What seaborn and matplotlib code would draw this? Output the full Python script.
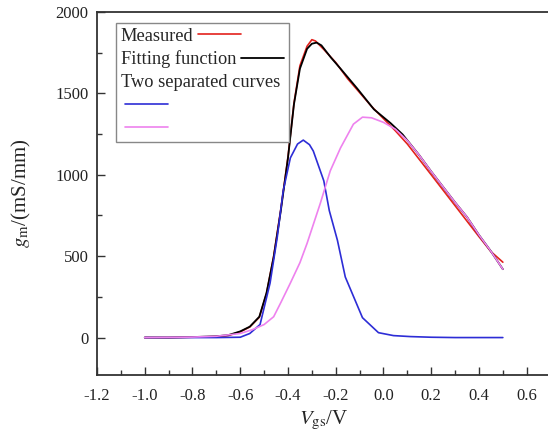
import numpy as np
import pandas as pd
import matplotlib
matplotlib.use("Agg")
import matplotlib.pyplot as plt
import seaborn as sns
from matplotlib.lines import Line2D
from matplotlib.legend_handler import HandlerBase
from matplotlib.ticker import MultipleLocator

# ---- data ----
meas_x = [-1.0, -0.9, -0.8, -0.7, -0.65, -0.6, -0.56, -0.52, -0.49, -0.46, -0.43, -0.4, -0.375,
          -0.35, -0.32, -0.3, -0.285, -0.25, -0.2, -0.15, -0.1, -0.05, 0.0, 0.05, 0.1, 0.2, 0.3,
          0.4, 0.45, 0.5]
meas_y = [0, 0, 2, 6, 12, 35, 65, 125, 270, 500, 790, 1110, 1440,
          1670, 1790, 1830, 1822, 1770, 1690, 1590, 1505, 1420, 1345, 1270, 1189, 1000, 810,
          620, 528, 463]

fit_x = [-1.0, -0.9, -0.8, -0.7, -0.65, -0.6, -0.56, -0.52, -0.49, -0.46, -0.43, -0.4, -0.375,
         -0.35, -0.32, -0.3, -0.28, -0.26, -0.22, -0.18, -0.11, -0.04, 0.03, 0.08, 0.15, 0.2,
         0.25, 0.3, 0.35, 0.4, 0.45, 0.5]
fit_y = [0, 0, 3, 8, 15, 38, 67, 128, 274, 494, 780, 1104, 1433,
         1652, 1774, 1805, 1812, 1795, 1720, 1652, 1530, 1402, 1317, 1248, 1120, 1020,
         925, 830, 740, 630, 530, 420]

blue_x = [-1.0, -0.9, -0.8, -0.7, -0.6, -0.56, -0.517, -0.475, -0.445, -0.42, -0.39, -0.36,
          -0.336, -0.31, -0.294, -0.25, -0.227, -0.193, -0.16, -0.088, -0.021, 0.042, 0.113,
          0.2, 0.3, 0.4, 0.5]
blue_y = [0, 0, 0, 0, 2, 25, 80, 335, 616, 902, 1104, 1189,
          1213, 1185, 1146, 963, 780, 598, 372, 122, 30, 12, 6,
          2, 0, 0, 0]

pink_x = [-1.0, -0.9, -0.8, -0.7, -0.6, -0.55, -0.5, -0.46, -0.43, -0.39, -0.35, -0.32, -0.265,
          -0.223, -0.18, -0.126, -0.088, -0.05, 0.0, 0.05, 0.1, 0.15, 0.2, 0.25, 0.3, 0.35, 0.4,
          0.45, 0.5]
pink_y = [0, 1, 3, 8, 25, 48, 80, 128, 215, 335, 460, 579, 823,
          1024, 1165, 1311, 1354, 1350, 1322, 1280, 1210, 1120, 1020, 925, 830, 740, 630,
          530, 420]

x_ticks = [-1.2, -1.0, -0.8, -0.6, -0.4, -0.2, 0.0, 0.2, 0.4, 0.6]
x_tick_labels = ["-1.2", "-1.0", "-0.8", "-0.6", "-0.4", "-0.2", "0.0", "0.2", "0.4", "0.6"]
y_ticks = [0, 500, 1000, 1500, 2000]

sns.set_style("ticks")
plt.rcParams["font.family"] = ["Liberation Serif", "DejaVu Serif"]
plt.rcParams["mathtext.fontset"] = "stix"

fig = plt.figure(figsize=(5.48, 4.34), dpi=100)
W, H = 548, 434
ax = fig.add_axes([97 / W, 1 - 375 / H, (550.6 - 97) / W, (375 - 12) / H])

red = "#e3211c"
blue = "#2d2dd6"
pink = "#ee82ee"

sns.lineplot(x=meas_x, y=meas_y, ax=ax, color=red, lw=1.2, sort=False, estimator=None)
sns.lineplot(x=fit_x, y=fit_y, ax=ax, color="black", lw=1.3, sort=False, estimator=None)
sns.lineplot(x=blue_x, y=blue_y, ax=ax, color=blue, lw=1.2, sort=False, estimator=None)
sns.lineplot(x=pink_x, y=pink_y, ax=ax, color=pink, lw=1.2, sort=False, estimator=None)

ax.set_xlim(-1.2, 0.7)
ax.set_ylim(-230, 2000)
ax.set_xticks(x_ticks)
ax.set_xticklabels(x_tick_labels)
ax.set_yticks(y_ticks)
ax.xaxis.set_minor_locator(MultipleLocator(0.1))
ax.yaxis.set_minor_locator(MultipleLocator(250))
ax.tick_params(which="both", direction="in", width=1.0, colors="#333333", labelcolor="#222222")
ax.tick_params(which="major", length=6)
ax.tick_params(which="minor", length=3.5)
ax.tick_params(axis="x", which="major", pad=9, labelsize=12)
ax.tick_params(axis="y", which="major", pad=6, labelsize=12)

for s in ["left", "bottom", "top"]:
    ax.spines[s].set_visible(True)
    ax.spines[s].set_color("#333333")
    ax.spines[s].set_linewidth(1.3)
ax.spines["right"].set_visible(False)

ax.set_xlabel(r"$V_{\mathrm{gs}}$/V", fontsize=15, labelpad=4)
ax.set_ylabel(r"$g_{\mathrm{m}}$/(mS/mm)", fontsize=15, labelpad=16)


class NoHandle(HandlerBase):
    def legend_artist(self, legend, orig_handle, fontsize, handlebox):
        handlebox.width = 0
        a = Line2D([], [], alpha=0)
        handlebox.add_artist(a)
        return a


h_meas = Line2D([], [], color=red, lw=1.2)
h_fit = Line2D([], [], color="black", lw=1.3)
h_two = Line2D([], [], alpha=0)
h_blue = Line2D([], [], color=blue, lw=1.2)
h_pink = Line2D([], [], color=pink, lw=1.2)

leg = ax.legend([h_meas, h_fit, h_two, h_blue, h_pink],
                ["Measured", "Fitting function", "Two separated curves", "", ""],
                handler_map={h_two: NoHandle()},
                markerfirst=False, loc="upper left",
                bbox_to_anchor=(116 / W, 1 - 23 / H), bbox_transform=fig.transFigure,
                borderaxespad=0, fontsize=13.2, frameon=True, fancybox=False,
                edgecolor="#888888", framealpha=1, handlelength=2.35, handletextpad=0.25,
                labelspacing=0.32, borderpad=0.25)
leg.get_frame().set_linewidth(1.0)
for col in leg._legend_handle_box.get_children():
    col.align = "baseline"

fig.savefig("out.png", dpi=100)
